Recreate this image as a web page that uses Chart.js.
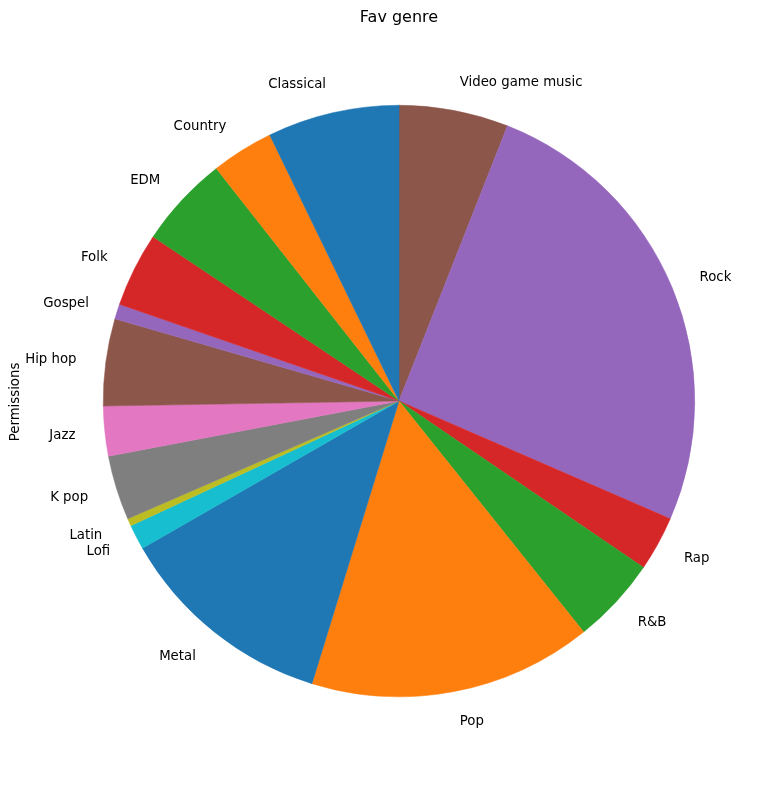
<!DOCTYPE html>
<html>
<head>
<meta charset="utf-8">
<script src="https://cdn.jsdelivr.net/npm/chart.js@4/dist/chart.umd.min.js"></script>
<style>
html,body{margin:0;padding:0;background:#fff;}
canvas{display:block;}
</style>
</head>
<body>
<canvas id="c" width="779" height="800"></canvas>
<script>
// Counterclockwise order from top (as in the reference)
const genres = ["Classical","Country","EDM","Folk","Gospel","Hip hop","Jazz","K pop","Latin","Lofi","Metal","Pop","R&B","Rap","Rock","Video game music"];
const counts = [53,25,37,30,6,35,20,26,3,10,88,114,35,22,188,44];
const tab10 = ["#1f77b4","#ff7f0e","#2ca02c","#d62728","#9467bd","#8c564b","#e377c2","#7f7f7f","#bcbd22","#17becf"];
const titleText = "Fav genre";
const yLabelText = "Permissions";

const colors = genres.map((g,i)=>tab10[i%10]);
// Chart.js draws clockwise, so reverse to mimic counterclockwise drawing
const labelsCW = genres.slice().reverse();
const countsCW = counts.slice().reverse();
const colorsCW = colors.slice().reverse();

const labelPlugin = {
  id:'mplLabels',
  afterDraw(chart){
    const ctx = chart.ctx;
    const meta = chart.getDatasetMeta(0);
    ctx.save();
    ctx.fillStyle = '#000';
    ctx.font = '13.3px "DejaVu Sans"';
    ctx.textBaseline = 'middle';
    meta.data.forEach((arc,i)=>{
      const mid = (arc.startAngle+arc.endAngle)/2;
      const r = arc.outerRadius*1.1;
      const x = arc.x + r*Math.cos(mid);
      const y = arc.y + r*Math.sin(mid);
      ctx.textAlign = Math.cos(mid) > 0 ? 'left' : 'right';
      ctx.fillText(chart.data.labels[i], x, y + 1);
    });
    // title
    ctx.font = '16px "DejaVu Sans"';
    ctx.textAlign = 'center';
    ctx.fillText(titleText, 399, 18);
    // y label
    ctx.font = '13.3px "DejaVu Sans"';
    ctx.translate(16, 402);
    ctx.rotate(-Math.PI/2);
    ctx.textAlign = 'center';
    ctx.fillText(yLabelText, 0, 0);
    ctx.restore();
  }
};

new Chart(document.getElementById('c'), {
  type:'pie',
  data:{
    labels: labelsCW,
    datasets:[{
      data: countsCW,
      backgroundColor: colorsCW,
      borderColor: colorsCW,
      borderWidth: 0.5
    }]
  },
  options:{
    responsive:false,
    animation:false,
    devicePixelRatio:1,
    rotation:0,
    layout:{padding:{top:105,bottom:103,left:103,right:84}},
    plugins:{legend:{display:false},tooltip:{enabled:false},title:{display:false}}
  },
  plugins:[labelPlugin]
});
</script>
</body>
</html>
